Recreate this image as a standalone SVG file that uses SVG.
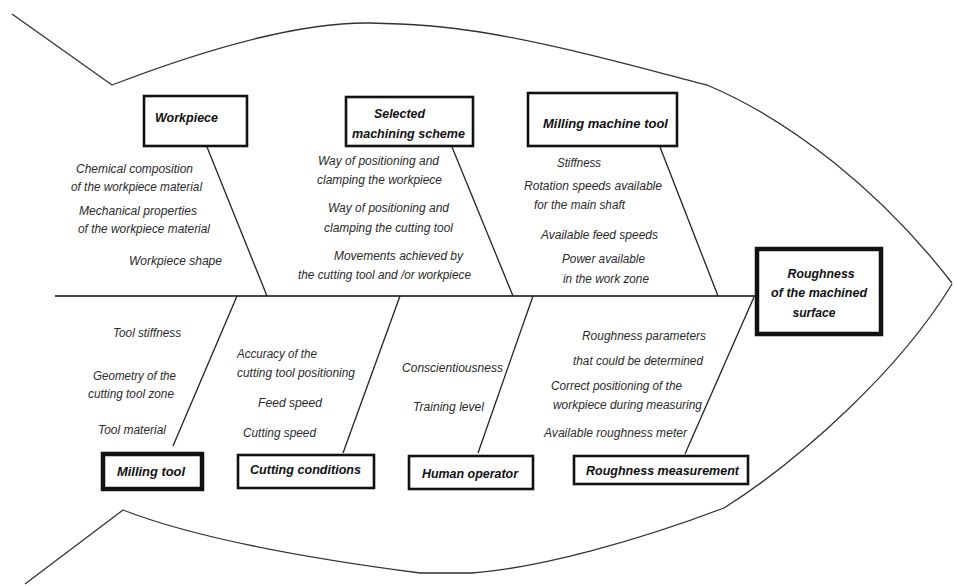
<svg xmlns="http://www.w3.org/2000/svg" width="957" height="586" viewBox="0 0 957 586">
  <style>
    .outline { fill: none; stroke: #333; stroke-width: 1.3; stroke-linejoin: round; }
    .bone { fill: none; stroke: #222; stroke-width: 1.3; }
    .spine { fill: none; stroke: #444; stroke-width: 2; }
    .box { fill: #fff; stroke: #111; stroke-width: 2.6; }
    .box-thick { fill: #fff; stroke: #111; stroke-width: 4.5; }
    .cause { font-family: "Liberation Sans Narrow", "Liberation Sans", Arial, sans-serif; font-style: italic; font-size: 12.5px; fill: #2a2a2a; }
    .label { font-family: "Liberation Sans", Arial, sans-serif; font-style: italic; font-weight: bold; font-size: 13.5px; fill: #111; }
  </style>
  <rect width="957" height="586" fill="#fff"/>

  <!-- fish body outline -->
  <g id="fish-outline">
    <path class="outline" d="M12,14 L112,85 C190,55 290,22 370,23 C420,24 455,28 480,32 C560,45 640,68 707,85 C790,120 880,190 952,283"/>
    <path class="outline" d="M952,284 C900,370 800,460 724,508 C640,540 540,568 472,573 L420,573 C320,560 200,540 123,510 L25,584"/>
  </g>

  <!-- spine and bones -->
  <g id="connectors">
    <line class="spine" x1="55" y1="296" x2="755" y2="296"/>
    <line class="bone" x1="207" y1="147" x2="267" y2="296"/>
    <line class="bone" x1="452" y1="147" x2="513" y2="296"/>
    <line class="bone" x1="660" y1="147" x2="718" y2="296"/>
    <line class="bone" x1="237" y1="296" x2="173" y2="446"/>
    <line class="bone" x1="400" y1="296" x2="343" y2="453"/>
    <line class="bone" x1="533" y1="296" x2="478" y2="453"/>
    <line class="bone" x1="754" y1="297" x2="685" y2="454"/>
  </g>

  <!-- effect (head) -->
  <g id="head">
    <rect class="box-thick" x="757" y="249" width="124" height="85"/>
    <text class="label" text-anchor="middle">
      <tspan x="823" y="278" textLength="67" lengthAdjust="spacingAndGlyphs">Roughness</tspan>
      <tspan x="821" y="297" textLength="96" lengthAdjust="spacingAndGlyphs">of the machined</tspan>
      <tspan x="814" y="317" textLength="43" lengthAdjust="spacingAndGlyphs">surface</tspan>
    </text>
  </g>

  <!-- upper causes -->
  <g id="workpiece">
    <rect class="box" x="144" y="96" width="103" height="50"/>
    <text class="label" x="155" y="122" textLength="63" lengthAdjust="spacingAndGlyphs">Workpiece</text>
    <text class="cause" x="76" y="173" textLength="117" lengthAdjust="spacingAndGlyphs">Chemical composition</text>
    <text class="cause" x="71" y="191" textLength="131" lengthAdjust="spacingAndGlyphs">of the workpiece material</text>
    <text class="cause" x="79" y="215" textLength="118" lengthAdjust="spacingAndGlyphs">Mechanical properties</text>
    <text class="cause" x="78" y="233" textLength="132" lengthAdjust="spacingAndGlyphs">of the workpiece material</text>
    <text class="cause" x="129" y="265" textLength="93" lengthAdjust="spacingAndGlyphs">Workpiece shape</text>
  </g>

  <g id="machining-scheme">
    <rect class="box" x="346" y="97" width="127" height="49"/>
    <text class="label" x="374" y="118" textLength="51" lengthAdjust="spacingAndGlyphs">Selected</text>
    <text class="label" x="352" y="138" textLength="113" lengthAdjust="spacingAndGlyphs">machining scheme</text>
    <text class="cause" x="318" y="165" textLength="121" lengthAdjust="spacingAndGlyphs">Way of positioning and</text>
    <text class="cause" x="317" y="184" textLength="125" lengthAdjust="spacingAndGlyphs">clamping the workpiece</text>
    <text class="cause" x="328" y="212" textLength="121" lengthAdjust="spacingAndGlyphs">Way of positioning and</text>
    <text class="cause" x="324" y="232" textLength="129" lengthAdjust="spacingAndGlyphs">clamping the cutting tool</text>
    <text class="cause" x="334" y="260" textLength="129" lengthAdjust="spacingAndGlyphs">Movements achieved by</text>
    <text class="cause" x="298" y="279" textLength="173" lengthAdjust="spacingAndGlyphs">the cutting tool and /or workpiece</text>
  </g>

  <g id="milling-machine-tool">
    <rect class="box" x="528" y="93" width="149" height="53"/>
    <text class="label" x="543" y="128" textLength="125" lengthAdjust="spacingAndGlyphs">Milling machine tool</text>
    <text class="cause" x="557" y="167" textLength="44" lengthAdjust="spacingAndGlyphs">Stiffness</text>
    <text class="cause" x="524" y="190" textLength="138" lengthAdjust="spacingAndGlyphs">Rotation speeds available</text>
    <text class="cause" x="534" y="209" textLength="91" lengthAdjust="spacingAndGlyphs">for the main shaft</text>
    <text class="cause" x="541" y="239" textLength="117" lengthAdjust="spacingAndGlyphs">Available feed speeds</text>
    <text class="cause" x="562" y="263" textLength="83" lengthAdjust="spacingAndGlyphs">Power available</text>
    <text class="cause" x="563" y="283" textLength="86" lengthAdjust="spacingAndGlyphs">in the work zone</text>
  </g>

  <!-- lower causes -->
  <g id="milling-tool">
    <rect class="box-thick" x="103" y="454" width="99" height="35"/>
    <text class="label" x="117" y="476" textLength="68" lengthAdjust="spacingAndGlyphs">Milling tool</text>
    <text class="cause" x="113" y="337" textLength="68" lengthAdjust="spacingAndGlyphs">Tool stiffness</text>
    <text class="cause" x="93" y="380" textLength="83" lengthAdjust="spacingAndGlyphs">Geometry of the</text>
    <text class="cause" x="88" y="398" textLength="86" lengthAdjust="spacingAndGlyphs">cutting tool zone</text>
    <text class="cause" x="98" y="434" textLength="68" lengthAdjust="spacingAndGlyphs">Tool material</text>
  </g>

  <g id="cutting-conditions">
    <rect class="box" x="238" y="455" width="136" height="33"/>
    <text class="label" x="250" y="474" textLength="111" lengthAdjust="spacingAndGlyphs">Cutting conditions</text>
    <text class="cause" x="237" y="358" textLength="80" lengthAdjust="spacingAndGlyphs">Accuracy of the</text>
    <text class="cause" x="237" y="377" textLength="118" lengthAdjust="spacingAndGlyphs">cutting tool positioning</text>
    <text class="cause" x="258" y="407" textLength="64" lengthAdjust="spacingAndGlyphs">Feed speed</text>
    <text class="cause" x="243" y="437" textLength="73" lengthAdjust="spacingAndGlyphs">Cutting speed</text>
  </g>

  <g id="human-operator">
    <rect class="box" x="409" y="456" width="124" height="33"/>
    <text class="label" x="422" y="478" textLength="96" lengthAdjust="spacingAndGlyphs">Human operator</text>
    <text class="cause" x="402" y="372" textLength="101" lengthAdjust="spacingAndGlyphs">Conscientiousness</text>
    <text class="cause" x="413" y="411" textLength="71" lengthAdjust="spacingAndGlyphs">Training level</text>
  </g>

  <g id="roughness-measurement">
    <rect class="box" x="574" y="456" width="174" height="28"/>
    <text class="label" x="586" y="475" textLength="153" lengthAdjust="spacingAndGlyphs">Roughness measurement</text>
    <text class="cause" x="582" y="340" textLength="124" lengthAdjust="spacingAndGlyphs">Roughness parameters</text>
    <text class="cause" x="573" y="365" textLength="130" lengthAdjust="spacingAndGlyphs">that could be determined</text>
    <text class="cause" x="551" y="390" textLength="131" lengthAdjust="spacingAndGlyphs">Correct positioning of the</text>
    <text class="cause" x="553" y="409" textLength="149" lengthAdjust="spacingAndGlyphs">workpiece during measuring</text>
    <text class="cause" x="544" y="437" textLength="143" lengthAdjust="spacingAndGlyphs">Available roughness meter</text>
  </g>
</svg>
